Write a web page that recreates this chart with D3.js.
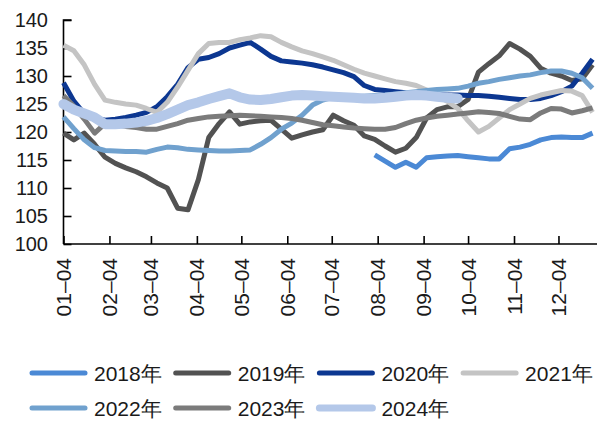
<!DOCTYPE html>
<html>
<head>
<meta charset="utf-8">
<script src="https://cdn.jsdelivr.net/npm/d3@7"></script>
<style>
  html, body { margin: 0; padding: 0; background: #fff; }
  svg { display: block; font-family: "Liberation Sans", Arial, sans-serif; }
</style>
</head>
<body>
<svg id="chart" width="603" height="421"></svg>
<script>
// weekly dates (month-day) shared by every year
const weeks = [
  "01-04","01-11","01-18","01-25","02-01","02-08","02-15","02-22",
  "03-01","03-08","03-15","03-22","03-29","04-05","04-12","04-19","04-26",
  "05-03","05-10","05-17","05-24","05-31","06-07","06-14","06-21","06-28",
  "07-05","07-12","07-19","07-26","08-02","08-09","08-16","08-23","08-30",
  "09-06","09-13","09-20","09-27","10-04","10-11","10-18","10-25",
  "11-01","11-08","11-15","11-22","11-29","12-06","12-13","12-20","12-27"
];
const tickLabels = ["01-04","02-04","03-04","04-04","05-04","06-04","07-04","08-04","09-04","10-04","11-04","12-04"];
const yTicks = [100, 105, 110, 115, 120, 125, 130, 135, 140];

const years = ["2018年","2019年","2020年","2021年","2022年","2023年","2024年"];
const colors = ["#4b89d5","#525252","#0c3791","#c4c4c4","#70a1ce","#7b7b7b","#b4c8e9"];
const widths = [5, 5, 5, 5, 5, 5, 10];

const v2018 = [null,null,null,null,null,null,null,null,null,null,null,null,null,null,null,
  null,null,null,null,null,null,null,null,null,null,null,null,null,null,null,
  115.9,114.8,113.7,114.6,113.7,115.4,115.6,115.7,115.8,115.6,115.4,115.2,115.2,
  117.0,117.3,117.8,118.6,119.0,119.1,119.0,119.0,119.8];
const v2019 = [119.8,118.6,119.8,117.8,115.5,114.4,113.6,112.9,112.0,110.9,110.0,106.4,106.1,
  111.5,119.0,121.5,123.6,121.4,121.8,122.0,122.1,120.5,118.9,119.5,120.0,120.4,
  123.0,122.0,121.2,119.3,118.7,117.5,116.4,117.1,119.0,122.5,124.0,124.5,124.5,
  125.8,130.7,132.2,133.6,135.8,134.8,133.5,131.4,130.5,130.0,129.2,129.5,132.0];
const v2020 = [128.8,125.5,123.3,122.5,122.1,122.3,122.6,123.0,123.5,124.5,126.3,128.5,131.5,
  133.0,133.3,134.0,135.0,135.5,136.0,134.8,133.5,132.7,132.5,132.3,132.0,131.6,
  131.1,130.6,129.9,128.3,127.6,127.4,127.2,127.0,126.9,126.8,126.7,126.6,126.6,
  126.5,126.5,126.4,126.2,126.0,125.8,125.8,126.0,126.5,127.2,128.2,130.5,133.0];
const v2021 = [135.5,134.5,132.0,128.5,125.7,125.3,125.0,124.8,124.2,123.5,125.3,128.0,131.0,
  134.0,135.8,136.0,136.0,136.5,136.8,137.2,137.0,136.0,135.2,134.5,134.0,133.4,
  132.8,132.0,131.2,130.5,130.0,129.5,129.0,128.7,128.3,127.5,126.5,125.5,124.2,
  122.0,120.0,121.0,122.5,124.0,125.0,126.0,126.6,127.0,127.4,127.3,126.5,123.5];
const v2022 = [122.7,120.6,118.6,117.2,116.7,116.6,116.5,116.5,116.4,116.9,117.3,117.2,116.9,
  116.8,116.7,116.6,116.6,116.7,116.8,117.8,119.0,120.5,121.6,123.0,124.8,125.7,
  126.2,126.2,126.3,126.4,126.5,126.6,126.8,127.0,127.2,127.4,127.6,127.7,127.8,
  128.2,128.7,129.0,129.4,129.7,130.0,130.2,130.6,130.9,130.9,130.5,129.7,127.8];
const v2023 = [126.5,124.6,122.3,119.8,121.5,121.3,121.0,120.8,120.5,120.5,121.0,121.5,122.1,
  122.4,122.7,122.8,122.9,123.0,122.9,122.8,122.7,122.6,122.4,122.1,121.7,121.3,
  121.1,120.9,120.7,120.6,120.5,120.5,120.8,121.5,122.1,122.5,122.8,123.0,123.2,
  123.4,123.6,123.5,123.3,122.8,122.3,122.2,123.4,124.2,124.1,123.4,123.8,124.3];
const v2024 = [125.0,124.0,123.3,122.6,121.4,121.4,121.5,121.7,122.0,122.5,123.2,124.0,124.8,
  125.3,125.9,126.4,126.9,126.2,125.8,125.7,125.9,126.2,126.5,126.6,126.5,126.4,
  126.3,126.2,126.1,126.0,126.0,126.1,126.3,126.5,126.6,126.5,126.3,126.1,126.0];

const series = [v2018, v2019, v2020, v2021, v2022, v2023, v2024];

const svg = d3.select("#chart");
const parse = d3.timeParse("%m-%d");

const x = d3.scaleTime()
  .domain([parse("01-04"), parse("12-30")])
  .range([63.5, 597]);
const y = d3.scaleLinear()
  .domain([100, 140])
  .range([244, 20]);

// y axis
const yAxis = svg.append("g")
  .attr("transform", "translate(63.5,0)")
  .call(d3.axisRight(y).tickValues(yTicks).tickSize(8).tickFormat(""));
yAxis.select(".domain").attr("d", `M8,${y(140)}H0V${y(100)}`);
yAxis.selectAll("line, path").attr("stroke", "#000").attr("stroke-width", 1.6);

svg.append("g")
  .selectAll("text")
  .data(yTicks)
  .enter().append("text")
  .attr("x", 48)
  .attr("y", d => y(d))
  .attr("dy", "0.36em")
  .attr("text-anchor", "end")
  .attr("font-size", 20)
  .attr("fill", "#1a1a1a")
  .text(d => d);

// x axis
const xAxis = svg.append("g")
  .attr("transform", `translate(0,${y(100)})`)
  .call(d3.axisTop(x).tickValues(tickLabels.map(parse)).tickSize(8).tickFormat(""));
xAxis.select(".domain").attr("d", `M63.5,0H597`);
xAxis.selectAll("line, path").attr("stroke", "#000").attr("stroke-width", 1.6);

svg.append("g")
  .selectAll("text")
  .data(tickLabels)
  .enter().append("text")
  .attr("transform", d => `translate(${x(parse(d))},258) rotate(-90)`)
  .attr("dy", "0.36em")
  .attr("text-anchor", "end")
  .attr("font-size", 21)
  .attr("fill", "#1a1a1a")
  .text(d => d.replace("-", "–"));

// lines
const line = d3.line()
  .defined(d => d[1] != null)
  .x(d => x(parse(d[0])))
  .y(d => y(d[1]));

svg.append("g")
  .selectAll("path")
  .data(series)
  .enter().append("path")
  .attr("fill", "none")
  .attr("stroke", (d, i) => colors[i])
  .attr("stroke-width", (d, i) => widths[i])
  .attr("stroke-linejoin", "round")
  .attr("stroke-linecap", (d, i) => i === 6 ? "round" : "butt")
  .attr("d", d => line(d.map((v, i) => [weeks[i], v])));

// legend
const legend = svg.append("g")
  .selectAll("g")
  .data(years)
  .enter().append("g")
  .attr("transform", (d, i) => `translate(${30 + (i % 4) * 143.7},${i < 4 ? 373 : 408})`);

legend.append("line")
  .attr("x1", 2).attr("x2", 55)
  .attr("stroke", (d, i) => colors[i])
  .attr("stroke-width", (d, i) => i === 6 ? 7 : 5)
  .attr("stroke-linecap", "round");

legend.append("text")
  .attr("x", 64)
  .attr("dy", "0.36em")
  .attr("font-size", 21)
  .attr("fill", "#1a1a1a")
  .text(d => d);
</script>
</body>
</html>
